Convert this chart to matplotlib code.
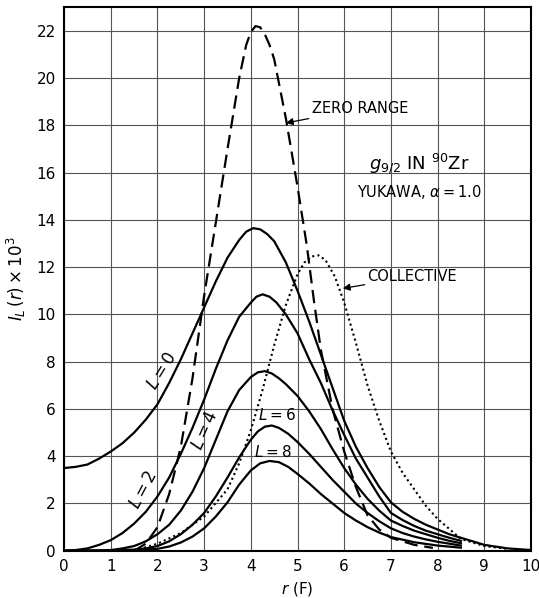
import matplotlib
matplotlib.use("Agg")
import matplotlib.pyplot as plt

# ---------------------------------------------
# Curves (r in fermi, I_L x 10^3)
# ---------------------------------------------
x_l0 = [0, 0.25, 0.5, 0.75, 1.0, 1.25, 1.5, 1.75, 2.0, 2.25, 2.5, 2.75, 3.0, 3.25, 3.5, 3.75,
        3.9, 4.05, 4.2, 4.35, 4.5, 4.75, 5.0, 5.25, 5.5, 5.75, 6.0, 6.25, 6.5, 6.75, 7.0,
        7.25, 7.5, 7.75, 8.0, 8.25, 8.5, 9.0, 9.5, 10.0]
y_l0 = [3.5, 3.55, 3.65, 3.9, 4.2, 4.55, 5.0, 5.55, 6.2, 7.1, 8.1, 9.2, 10.3, 11.4, 12.4, 13.15,
        13.5, 13.65, 13.6, 13.4, 13.1, 12.2, 11.0, 9.7, 8.3, 6.9, 5.5, 4.4, 3.5, 2.7, 2.05,
        1.65, 1.35, 1.1, 0.9, 0.7, 0.55, 0.25, 0.1, 0.03]

x_l2 = [0, 0.25, 0.5, 0.75, 1.0, 1.25, 1.5, 1.75, 2.0, 2.25, 2.5, 2.75, 3.0, 3.25, 3.5, 3.75,
        4.0, 4.12, 4.25, 4.4, 4.55, 4.75, 5.0, 5.25, 5.5, 5.75, 6.0, 6.25, 6.5, 6.75, 7.0,
        7.25, 7.5, 7.75, 8.0, 8.25, 8.5]
y_l2 = [0, 0.03, 0.1, 0.25, 0.45, 0.75, 1.15, 1.65, 2.3, 3.1, 4.1, 5.2, 6.4, 7.7, 8.9, 9.9,
        10.5, 10.75, 10.85, 10.75, 10.5, 10.0, 9.2, 8.1, 7.1, 5.95, 4.9, 3.9, 3.1, 2.3, 1.6,
        1.3, 1.05, 0.85, 0.7, 0.55, 0.42]

x_l4 = [0, 0.5, 1.0, 1.25, 1.5, 1.75, 2.0, 2.25, 2.5, 2.75, 3.0, 3.25, 3.5, 3.75, 4.0, 4.15,
        4.3, 4.45, 4.6, 4.75, 5.0, 5.25, 5.5, 5.75, 6.0, 6.25, 6.5, 6.75, 7.0, 7.25, 7.5,
        7.75, 8.0, 8.25, 8.5]
y_l4 = [0, 0.0, 0.03, 0.1, 0.2, 0.4, 0.7, 1.1, 1.7, 2.5, 3.5, 4.7, 5.9, 6.8, 7.35, 7.55,
        7.6, 7.5, 7.3, 7.05, 6.55, 5.9, 5.15, 4.3, 3.5, 2.8, 2.2, 1.7, 1.28, 1.05, 0.85,
        0.7, 0.55, 0.42, 0.32]

x_l6 = [0, 1.0, 1.5, 1.75, 2.0, 2.25, 2.5, 2.75, 3.0, 3.25, 3.5, 3.75, 4.0, 4.15, 4.3, 4.45,
        4.6, 4.8, 5.0, 5.25, 5.5, 5.75, 6.0, 6.25, 6.5, 6.75, 7.0, 7.25, 7.5, 7.75, 8.0,
        8.25, 8.5]
y_l6 = [0, 0.01, 0.05, 0.1, 0.2, 0.4, 0.7, 1.1, 1.6, 2.3, 3.1, 3.95, 4.7, 5.05, 5.25, 5.3,
        5.2, 4.95, 4.6, 4.1, 3.55, 3.0, 2.5, 2.0, 1.6, 1.25, 0.95, 0.75, 0.6, 0.48, 0.38,
        0.3, 0.22]

x_l8 = [0, 1.0, 1.5, 2.0, 2.25, 2.5, 2.75, 3.0, 3.25, 3.5, 3.75, 4.0, 4.2, 4.4, 4.6, 4.8,
        5.0, 5.25, 5.5, 5.75, 6.0, 6.25, 6.5, 6.75, 7.0, 7.5, 8.0, 8.5]
y_l8 = [0, 0.0, 0.02, 0.08, 0.18, 0.35, 0.6, 0.95, 1.45, 2.05, 2.8, 3.4, 3.7, 3.8, 3.75, 3.55,
        3.25, 2.85, 2.4, 2.0, 1.6, 1.28, 1.0, 0.77, 0.58, 0.36, 0.22, 0.13]

x_zero = [1.5, 1.75, 2.0, 2.25, 2.5, 2.75, 3.0, 3.25, 3.5, 3.75, 3.9, 4.0, 4.1, 4.2, 4.3, 4.4,
          4.5, 4.75, 5.0, 5.2, 5.35, 5.5, 5.75, 6.0, 6.25, 6.5, 6.75, 7.0, 7.5, 7.9]
y_zero = [0.0, 0.3, 1.0, 2.4, 4.4, 7.3, 10.8, 13.9, 17.0, 20.0, 21.4, 21.95, 22.2, 22.15, 21.85,
          21.4, 20.8, 18.3, 15.4, 12.9, 10.6, 8.5, 6.0, 4.2, 2.7, 1.5, 0.9, 0.55, 0.25, 0.12]

x_coll = [1.5, 2.0, 2.5, 3.0, 3.5, 3.75, 4.0, 4.25, 4.5, 4.75, 5.0, 5.15, 5.3, 5.45, 5.6, 5.8,
          6.0, 6.25, 6.5, 6.75, 7.0, 7.25, 7.5, 7.75, 8.0, 8.5, 9.0, 9.5]
y_coll = [0.0, 0.3, 0.75, 1.45, 2.6, 3.7, 5.1, 6.8, 8.7, 10.4, 11.7, 12.2, 12.45, 12.5, 12.3, 11.6,
          10.5, 8.8, 7.0, 5.5, 4.2, 3.3, 2.6, 1.9, 1.35, 0.5, 0.2, 0.08]

x_ticks = list(range(0, 11))
y_ticks = list(range(0, 23, 2))

# ---------------------------------------------
# Plot
# ---------------------------------------------
fig = plt.figure(figsize=(5.39, 5.98), dpi=100)
ax = fig.add_axes([0.119, 0.079, 0.866, 0.909])

for xs, ys in [(x_l0, y_l0), (x_l2, y_l2), (x_l4, y_l4), (x_l6, y_l6), (x_l8, y_l8)]:
    ax.plot(xs, ys, color="black", lw=1.6, solid_joinstyle="round")
ax.plot(x_zero, y_zero, color="black", lw=1.6, dashes=(6, 3))
ax.plot(x_coll, y_coll, color="black", lw=1.5, ls=(0, (1, 1.5)))

ax.set_xlim(0, 10)
ax.set_ylim(0, 23)
ax.set_xticks(x_ticks)
ax.set_yticks(y_ticks)
ax.tick_params(length=0, labelsize=11, pad=6)
ax.grid(True, color="#555555", lw=0.8)
for s in ax.spines.values():
    s.set_linewidth(1.5)

ax.set_xlabel(r"$r$ (F)", fontsize=11, labelpad=4)
ax.set_ylabel(r"$I_L\,(r)\times 10^3$", fontsize=12, labelpad=6)

# curve labels
ax.text(2.1, 7.6, r"$L=0$", rotation=58, fontsize=12, ha="center", va="center")
ax.text(1.7, 2.6, r"$L=2$", rotation=62, fontsize=12, ha="center", va="center")
ax.text(3.02, 5.1, r"$L=4$", rotation=66, fontsize=12, ha="center", va="center")
ax.text(4.55, 5.75, r"$L=6$", fontsize=11, ha="center", va="center")
ax.text(4.48, 3.98, r"$L=8$", fontsize=11, ha="center", va="baseline")

ax.annotate("ZERO RANGE", xy=(4.75, 18.1), xytext=(5.3, 18.7), fontsize=10.5,
            va="center", ha="left",
            arrowprops=dict(arrowstyle="-|>", color="black", lw=0.9, shrinkA=0, shrinkB=0))
ax.annotate("COLLECTIVE", xy=(5.97, 11.1), xytext=(6.5, 11.6), fontsize=10.5,
            va="center", ha="left",
            arrowprops=dict(arrowstyle="-|>", color="black", lw=0.9, shrinkA=0, shrinkB=0))

ax.text(7.6, 16.4, r"$g_{9/2}$ IN $^{90}$Zr", fontsize=13, ha="center", va="center")
ax.text(7.6, 15.2, r"YUKAWA, $\alpha=1.0$", fontsize=10.5, ha="center", va="center")

fig.savefig("out.png", dpi=100)
